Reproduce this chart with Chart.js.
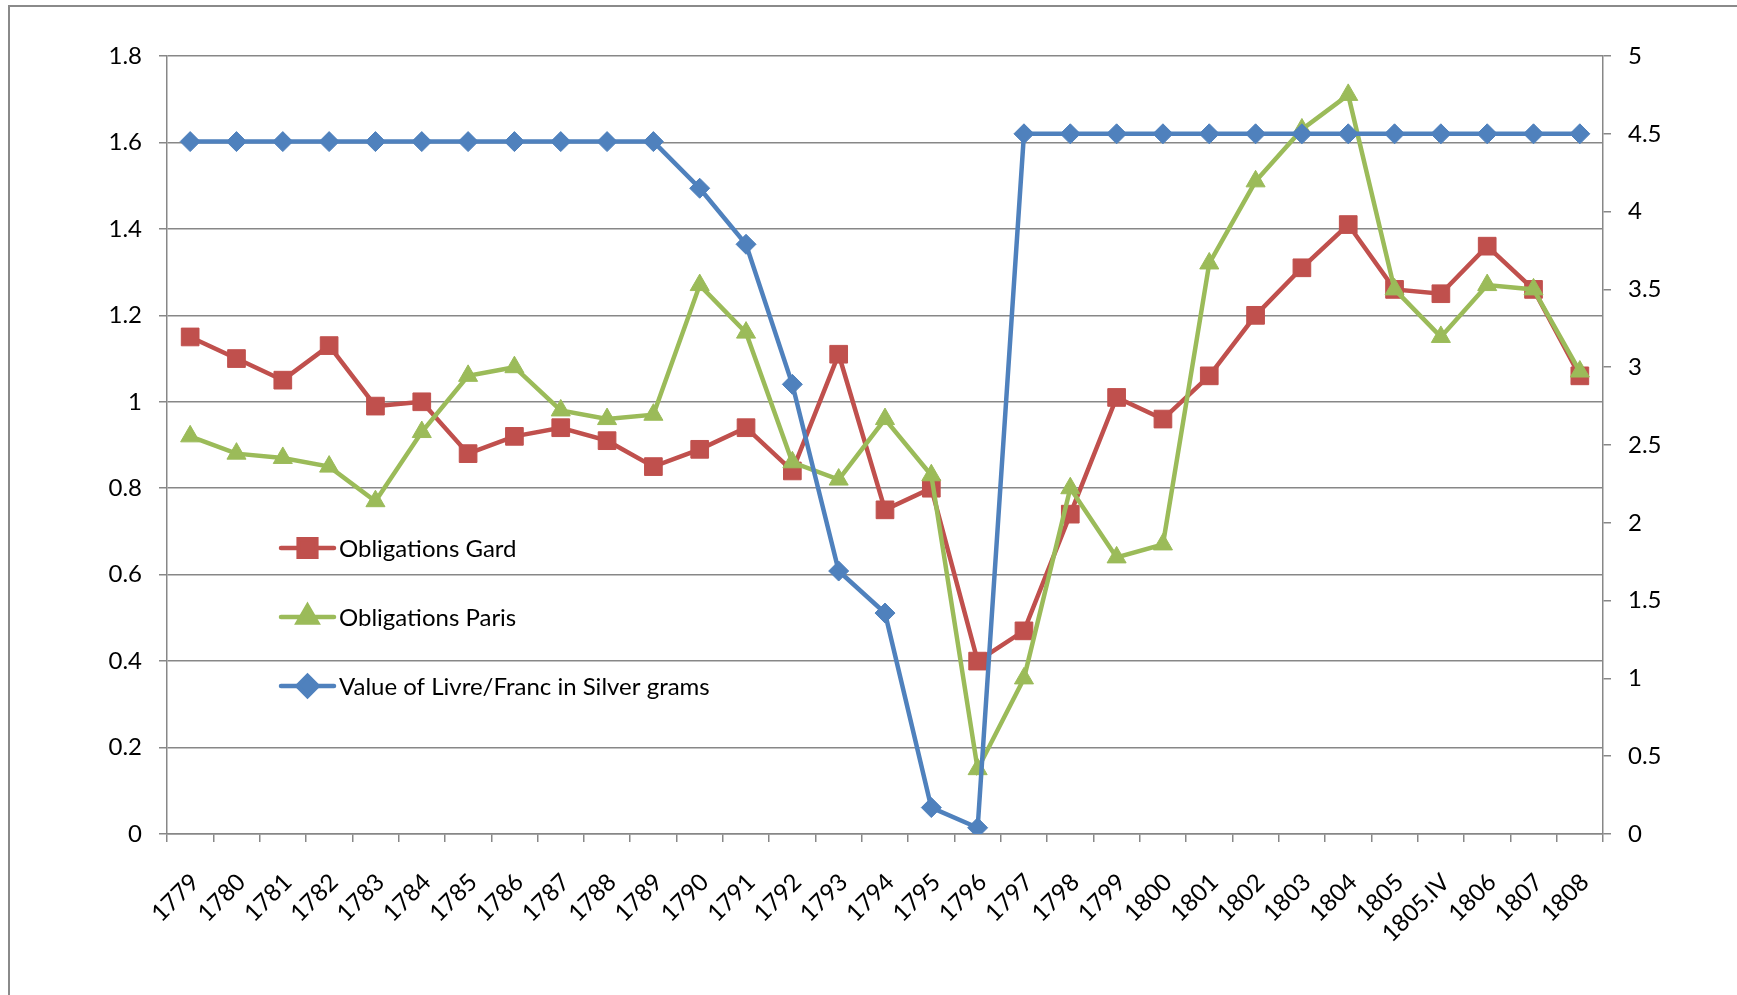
<!DOCTYPE html>
<html>
<head>
<meta charset="utf-8">
<title>Obligations Gard / Paris and value of the livre</title>
<script src="https://cdn.jsdelivr.net/npm/chart.js@4.4.1/dist/chart.umd.min.js"></script>
<style>
  html, body { margin: 0; padding: 0; background: #fff; }
  #wrap { width: 1737px; height: 995px; }
</style>
</head>
<body>
<div id="wrap"><canvas id="bondsCanvas" width="1737" height="995"></canvas></div>
<script>
// categories
const years = ['1779', '1780', '1781', '1782', '1783', '1784', '1785', '1786', '1787', '1788',
  '1789', '1790', '1791', '1792', '1793', '1794', '1795', '1796', '1797', '1798',
  '1799', '1800', '1801', '1802', '1803', '1804', '1805', '1805.IV', '1806', '1807', '1808'];

// left axis series
const gardValues = [1.15, 1.10, 1.05, 1.13, 0.99, 1.00, 0.88, 0.92, 0.94, 0.91,
  0.85, 0.89, 0.94, 0.84, 1.11, 0.75, 0.80, 0.40, 0.47, 0.74,
  1.01, 0.96, 1.06, 1.20, 1.31, 1.41, 1.26, 1.25, 1.36, 1.26, 1.06];
const parisValues = [0.92, 0.88, 0.87, 0.85, 0.77, 0.93, 1.06, 1.08, 0.98, 0.96,
  0.97, 1.27, 1.16, 0.86, 0.82, 0.96, 0.83, 0.15, 0.36, 0.80,
  0.64, 0.67, 1.32, 1.51, 1.63, 1.71, 1.26, 1.15, 1.27, 1.26, 1.07];

// right axis series
const silverValues = [4.45, 4.45, 4.45, 4.45, 4.45, 4.45, 4.45, 4.45, 4.45, 4.45,
  4.45, 4.15, 3.79, 2.89, 1.69, 1.42, 0.17, 0.04, 4.5, 4.5,
  4.5, 4.5, 4.5, 4.5, 4.5, 4.5, 4.5, 4.5, 4.5, 4.5, 4.5];

// axis ranges
const leftAxisMax = 1.8, leftStep = 0.2;
const rightAxisMax = 5, rightStep = 0.5;

const red = '#C0504D';
const green = '#9BBB59';
const blue = '#4F81BD';
const axisGray = '#878787';
const tickFont = { family: 'Lato', size: 24 };

const fmt = v => String(Math.round(v * 10) / 10);

// frame round the whole chart, like the Excel chart border
const framePlugin = {
  id: 'frame',
  beforeDraw(chart) {
    const ctx = chart.ctx;
    ctx.save();
    ctx.fillStyle = '#fff';
    ctx.fillRect(0, 0, chart.width, chart.height);
    ctx.strokeStyle = '#8a8a8a';
    ctx.lineWidth = 2;
    ctx.beginPath();
    ctx.moveTo(9, chart.height + 5);
    ctx.lineTo(9, 6);
    ctx.lineTo(chart.width + 5, 6);
    ctx.stroke();
    ctx.restore();
  }
};

// legend sits inside the plot, stacked on the left
const innerLegend = {
  id: 'innerLegend',
  afterDraw(chart) {
    const ctx = chart.ctx;
    const rows = [2, 1, 0];          // Gard, Paris, Silver
    const rowY = [548, 617, 686];
    ctx.save();
    rows.forEach((dsIndex, i) => {
      const ds = chart.data.datasets[dsIndex];
      const y = rowY[i];
      ctx.strokeStyle = ds.borderColor;
      ctx.lineWidth = ds.borderWidth;
      ctx.lineCap = 'round';
      ctx.beginPath();
      ctx.moveTo(281, y);
      ctx.lineTo(334, y);
      ctx.stroke();
      ctx.fillStyle = ds.pointBackgroundColor;
      ctx.strokeStyle = ds.pointBorderColor;
      Chart.helpers.drawPoint(ctx, {
        pointStyle: ds.pointStyle,
        radius: ds.pointRadius,
        rotation: 0,
        borderWidth: ds.pointBorderWidth
      }, 307.5, y);
      ctx.fillStyle = '#000';
      ctx.font = '24px Lato';
      ctx.textBaseline = 'middle';
      ctx.textAlign = 'left';
      ctx.fillText(ds.label, 339, y + 1);
    });
    ctx.restore();
  }
};

const ctx = document.getElementById('bondsCanvas').getContext('2d');

const bondsChart = new Chart(ctx, {
  type: 'line',
  data: {
    labels: years,
    datasets: [
      {
        label: 'Value of Livre/Franc in Silver grams',
        data: silverValues,
        yAxisID: 'y1',
        borderColor: blue,
        backgroundColor: blue,
        pointBackgroundColor: blue,
        pointBorderColor: blue,
        pointStyle: 'rectRot',
        pointRadius: 10,
        pointBorderWidth: 1,
        borderWidth: 4.5,
        tension: 0
      },
      {
        label: 'Obligations Paris',
        data: parisValues,
        yAxisID: 'y',
        borderColor: green,
        backgroundColor: green,
        pointBackgroundColor: green,
        pointBorderColor: green,
        pointStyle: 'triangle',
        pointRadius: 11,
        pointBorderWidth: 1,
        borderWidth: 4.5,
        tension: 0
      },
      {
        label: 'Obligations Gard',
        data: gardValues,
        yAxisID: 'y',
        borderColor: red,
        backgroundColor: red,
        pointBackgroundColor: red,
        pointBorderColor: red,
        pointStyle: 'rect',
        pointRadius: 12.5,
        pointBorderWidth: 1,
        borderWidth: 4.5,
        tension: 0
      }
    ]
  },
  options: {
    responsive: false,
    animation: false,
    devicePixelRatio: 1,
    layout: { padding: { top: 56, left: 0, right: 0, bottom: 0 } },
    plugins: {
      legend: { display: false },
      tooltip: { enabled: false },
      title: { display: false }
    },
    scales: {
      x: {
        type: 'category',
        offset: true,
        grid: {
          offset: true,
          drawOnChartArea: false,
          drawTicks: true,
          tickLength: 8,
          color: axisGray,
          lineWidth: 1.5
        },
        border: { color: axisGray, width: 1.5 },
        ticks: {
          autoSkip: false,
          minRotation: 45,
          maxRotation: 45,
          padding: 26,
          labelOffset: 5,
          color: '#000',
          font: tickFont
        },
        afterFit(scale) { scale.height = 161; }
      },
      y: {
        position: 'left',
        min: 0,
        max: leftAxisMax,
        grid: { color: axisGray, lineWidth: 1.5, tickLength: 8 },
        border: { color: axisGray, width: 1.5 },
        ticks: {
          stepSize: leftStep,
          padding: 17,
          color: '#000',
          font: tickFont,
          callback: fmt
        },
        afterFit(scale) { scale.width = 167; }
      },
      y1: {
        position: 'right',
        min: 0,
        max: rightAxisMax,
        grid: { drawOnChartArea: false, color: axisGray, lineWidth: 1.5, tickLength: 8 },
        border: { color: axisGray, width: 1.5 },
        ticks: {
          stepSize: rightStep,
          padding: 17,
          color: '#000',
          font: tickFont,
          callback: fmt
        },
        afterFit(scale) { scale.width = 134; }
      }
    }
  },
  plugins: [framePlugin, innerLegend]
});
</script>
</body>
</html>
